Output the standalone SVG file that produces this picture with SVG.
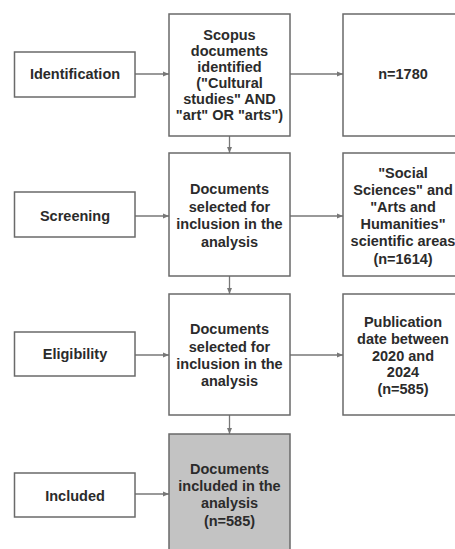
<svg xmlns="http://www.w3.org/2000/svg" width="455" height="549" viewBox="0 0 455 549">
<defs>
<marker id="ah" viewBox="0 0 6 6" refX="6" refY="3" markerWidth="6" markerHeight="6" orient="auto" markerUnits="userSpaceOnUse">
<path d="M0,0.5 L6,3 L0,5.5 Z" fill="#777"/>
</marker>
<style>
.box{fill:#fff;stroke:#6a6a6a;stroke-width:1.5}
.gray{fill:#c3c3c3;stroke:#6a6a6a;stroke-width:1.5}
.t{font-family:"Liberation Sans",Arial,sans-serif;font-weight:bold;font-size:14.5px;fill:#2b2b2b;text-anchor:middle}
.c{stroke:#777;stroke-width:1.3;fill:none;marker-end:url(#ah)}
</style>
</defs>
<rect width="455" height="549" fill="#fff"/>
<g id="connectors">
<line class="c" x1="135" y1="74" x2="169" y2="74"/>
<line class="c" x1="290" y1="74" x2="343" y2="74"/>
<line class="c" x1="229.5" y1="136" x2="229.5" y2="153"/>
<line class="c" x1="135" y1="216" x2="169" y2="216"/>
<line class="c" x1="290" y1="216" x2="343" y2="216"/>
<line class="c" x1="229.5" y1="276" x2="229.5" y2="294"/>
<line class="c" x1="135" y1="355" x2="169" y2="355"/>
<line class="c" x1="290" y1="355" x2="343" y2="355"/>
<line class="c" x1="229.5" y1="415" x2="229.5" y2="434"/>
<line class="c" x1="135" y1="494" x2="169" y2="494"/>
</g>
<g id="identification">
<rect class="box" x="14.5" y="52" width="120.5" height="45"/>
<text class="t" x="75" y="79">Identification</text>
</g>
<g id="scopus">
<rect class="box" x="169" y="14" width="121" height="122"/>
<text class="t" x="229.5" y="40">Scopus</text>
<text class="t" x="229.5" y="56">documents</text>
<text class="t" x="229.5" y="72">identified</text>
<text class="t" x="229.5" y="88">("Cultural</text>
<text class="t" x="229.5" y="104">studies" AND</text>
<text class="t" x="229.5" y="120">"art" OR "arts")</text>
</g>
<g id="n1780">
<rect class="box" x="343" y="14" width="130" height="122"/>
<text class="t" x="403" y="79">n=1780</text>
</g>
<g id="screening">
<rect class="box" x="14.5" y="192" width="120.5" height="45"/>
<text class="t" x="75" y="221">Screening</text>
</g>
<g id="selected1">
<rect class="box" x="169" y="153" width="121" height="123"/>
<text class="t" x="229.5" y="194">Documents</text>
<text class="t" x="229.5" y="211.5">selected for</text>
<text class="t" x="229.5" y="229">inclusion in the</text>
<text class="t" x="229.5" y="246.5">analysis</text>
</g>
<g id="areas">
<rect class="box" x="343" y="153" width="130" height="123"/>
<text class="t" x="403" y="178">"Social</text>
<text class="t" x="403" y="195">Sciences" and</text>
<text class="t" x="403" y="212">"Arts and</text>
<text class="t" x="403" y="229">Humanities"</text>
<text class="t" x="403" y="246">scientific areas</text>
<text class="t" x="403" y="264">(n=1614)</text>
</g>
<g id="eligibility">
<rect class="box" x="14.5" y="332" width="120.5" height="44"/>
<text class="t" x="75" y="359">Eligibility</text>
</g>
<g id="selected2">
<rect class="box" x="169" y="294" width="121" height="121"/>
<text class="t" x="229.5" y="334">Documents</text>
<text class="t" x="229.5" y="351.5">selected for</text>
<text class="t" x="229.5" y="368.5">inclusion in the</text>
<text class="t" x="229.5" y="386">analysis</text>
</g>
<g id="publication">
<rect class="box" x="343" y="294" width="130" height="121"/>
<text class="t" x="403" y="327">Publication</text>
<text class="t" x="403" y="344">date between</text>
<text class="t" x="403" y="360.5">2020 and</text>
<text class="t" x="403" y="377">2024</text>
<text class="t" x="403" y="394">(n=585)</text>
</g>
<g id="included">
<rect class="box" x="14.5" y="473" width="120.5" height="44"/>
<text class="t" x="75" y="501">Included</text>
</g>
<g id="final">
<rect class="gray" x="169" y="434" width="121" height="130"/>
<text class="t" x="229.5" y="474">Documents</text>
<text class="t" x="229.5" y="491">included in the</text>
<text class="t" x="229.5" y="508">analysis</text>
<text class="t" x="229.5" y="526">(n=585)</text>
</g>
</svg>
